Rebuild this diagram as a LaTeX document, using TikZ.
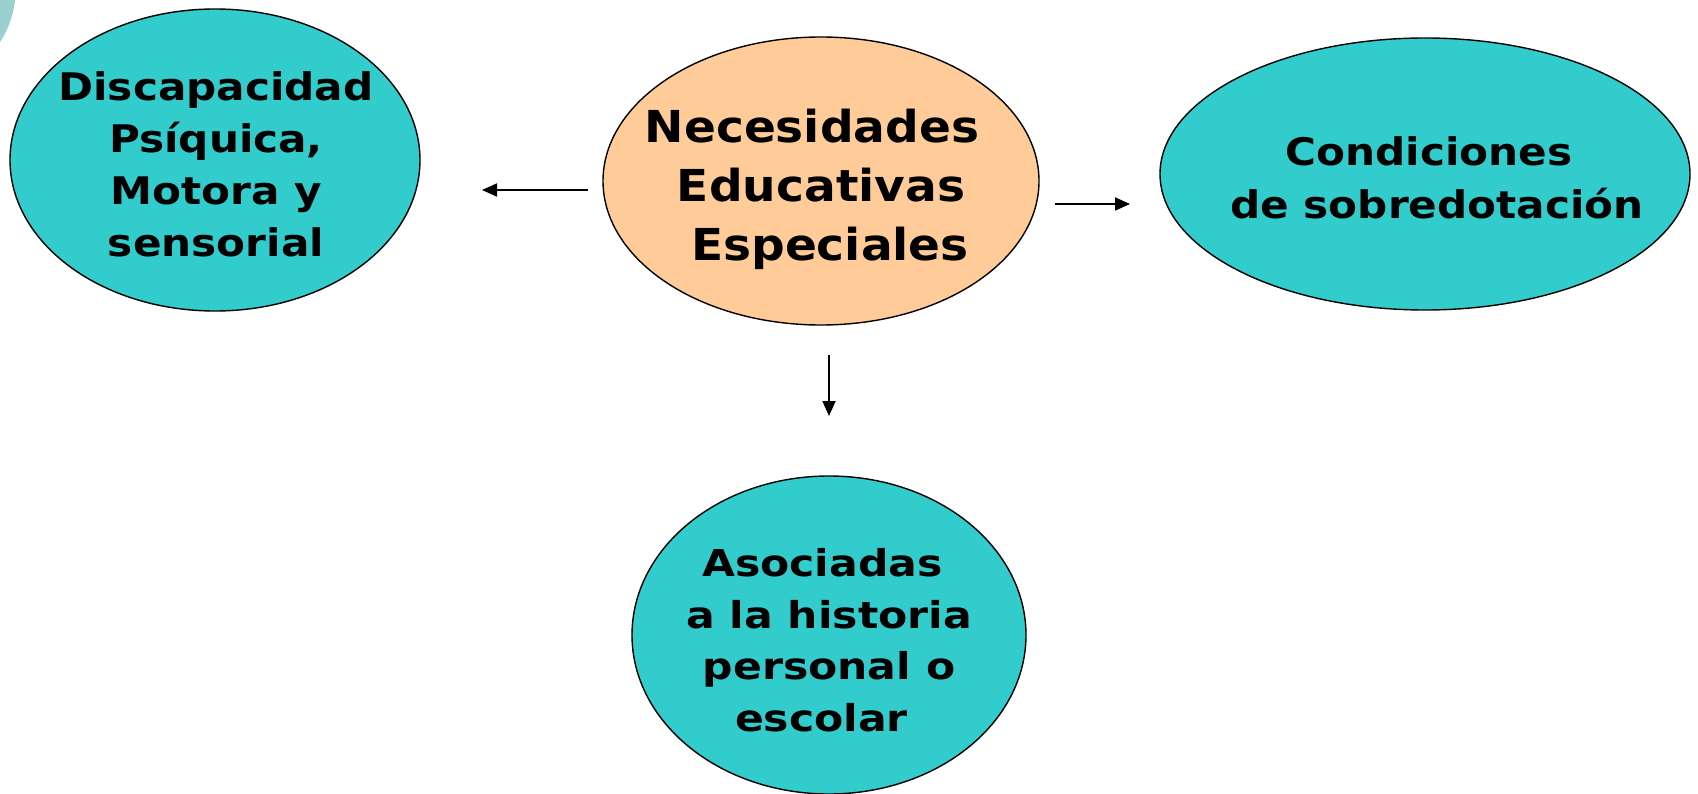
\documentclass[tikz,border=0pt]{standalone}
\usepackage{fontspec}
\setmainfont[FakeStretch=1.11]{DejaVu Sans}
\newfontfamily\cfont[FakeStretch=1.07]{DejaVu Sans}
\newfontfamily\bfont[FakeStretch=1.15]{DejaVu Sans}
\usetikzlibrary{shapes.geometric,arrows.meta}
\definecolor{tealfill}{HTML}{33CCCC}
\definecolor{peach}{HTML}{FFCC99}
\definecolor{paleteal}{HTML}{9BD0D0}
\tikzset{
  oval/.style={ellipse, draw=black, line width=1.4pt, inner sep=0pt},
  txt/.style={inner sep=0pt, align=center},
  conn/.style={line width=1.8pt, -{Triangle[length=15pt,width=13pt]}}
}
\begin{document}
\begin{tikzpicture}[x=1pt,y=-1pt]
\useasboundingbox (0,0) rectangle (1698,794);
\fill[paleteal] (-80,-10) circle[radius=95.5];
\node[oval, fill=tealfill, minimum width=410pt, minimum height=302pt] (dis) at (215,160) {};
\node[txt, font=\bfseries\fontsize{38}{52}\selectfont] (dist) at (216,164) {Discapacidad\\Psíquica,\\Motora y\hspace*{17pt}\\sensorial};
\node[oval, fill=peach, minimum width=436pt, minimum height=288pt] (nee) at (821,181) {};
\node[txt, font=\cfont\bfseries\fontsize{44}{59}\selectfont] (neet) at (821,189) {Necesidades\hspace*{18pt}\\Educativas\\\hspace*{18pt}Especiales};
\node[oval, fill=tealfill, minimum width=530pt, minimum height=272pt] (cond) at (1425,174) {};
\node[txt, font=\bfseries\fontsize{38}{53}\selectfont] (condt) at (1429,178) {Condiciones\\\hspace*{16pt}de sobredotación};
\node[oval, fill=tealfill, minimum width=394pt, minimum height=318pt] (aso) at (829,635) {};
\node[txt, font=\bfont\bfseries\fontsize{37}{51.5}\selectfont] (asot) at (829,640) {Asociadas\hspace*{13pt}\\a la historia\\personal o\\escolar\hspace*{15pt}};
\coordinate (l1) at (588,190);
\coordinate (l2) at (482,190);
\coordinate (r1) at (1055,204);
\coordinate (r2) at (1130,204);
\coordinate (d1) at (829,355);
\coordinate (d2) at (829,416);
\draw[conn] (l1) -- (l2);
\draw[conn] (r1) -- (r2);
\draw[conn] (d1) -- (d2);
\end{tikzpicture}
\end{document}
